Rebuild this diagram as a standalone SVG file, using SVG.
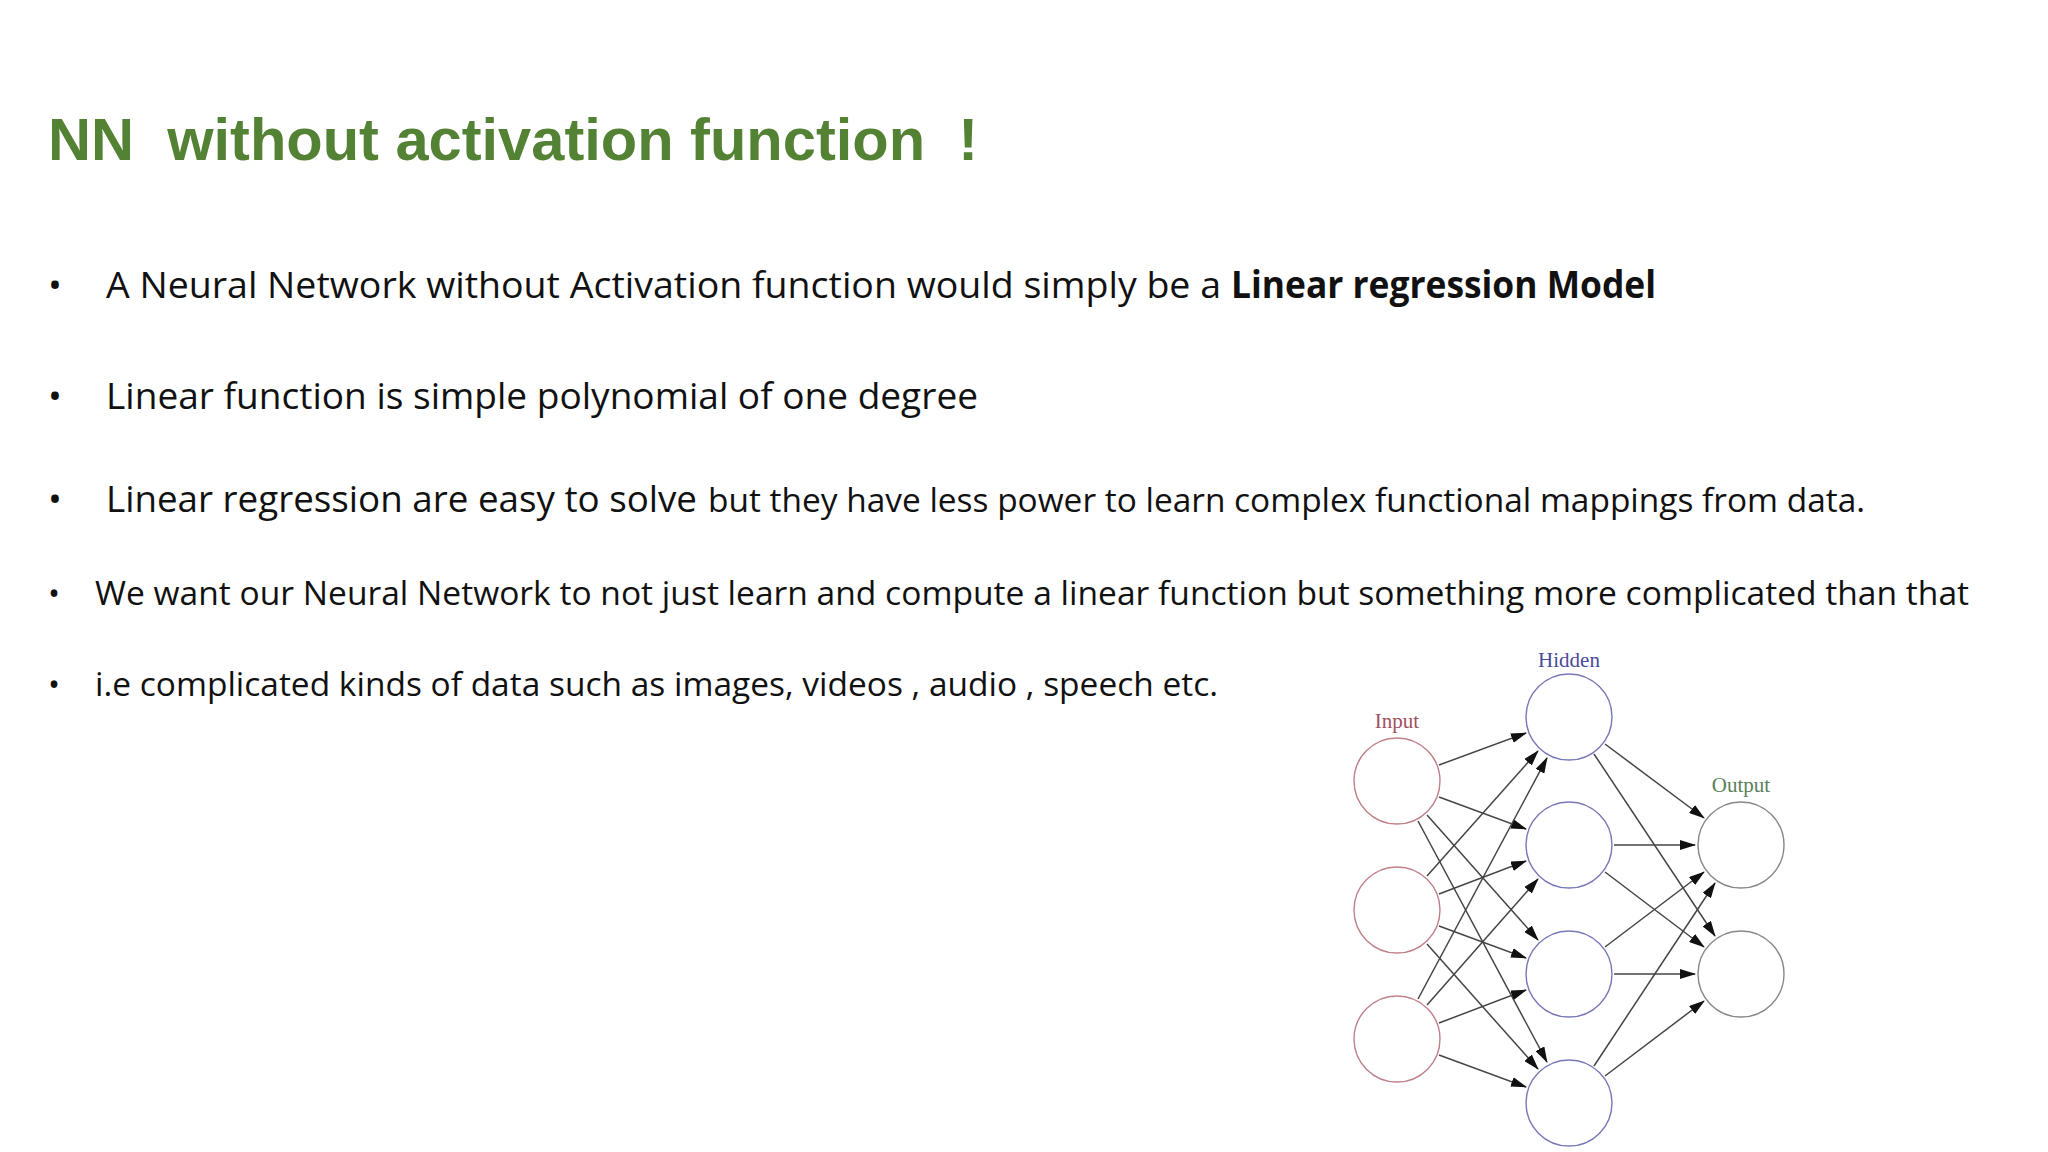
<svg xmlns="http://www.w3.org/2000/svg" width="2048" height="1152" viewBox="0 0 2048 1152">
<defs>
<style>
.t{font-family:"Open Sans","Liberation Sans",sans-serif;fill:#111;}
.b{font-size:37px}
.s{font-size:32px}
.c{fill:#fff;stroke-width:1.4}
.lbl{font-family:"Liberation Serif",serif;font-size:21px;text-anchor:middle}
.e line{stroke:#444;stroke-width:1.5;marker-end:url(#ah)}
</style>
<marker id="ah" markerUnits="userSpaceOnUse" markerWidth="16" markerHeight="10" refX="15" refY="5" orient="auto">
<path d="M0,0 L16,5 L0,10 Z" fill="#111"/>
</marker>
</defs>
<rect width="2048" height="1152" fill="#fff"/>
<text x="48" y="160" xml:space="preserve" style="white-space:pre" font-family="Liberation Sans,Arial,sans-serif" font-weight="bold" font-size="60" fill="#548235" textLength="930" lengthAdjust="spacingAndGlyphs">NN  without activation function  !</text>
<g id="bullets">
<text class="t b" x="48" y="298">•</text>
<text class="t b" x="106" y="298" textLength="1115" lengthAdjust="spacingAndGlyphs">A Neural Network without Activation function would simply be a</text>
<text class="t b" x="1231" y="298" font-weight="bold" textLength="425" lengthAdjust="spacingAndGlyphs">Linear regression Model</text>
<text class="t b" x="48" y="409">•</text>
<text class="t b" x="106" y="409" textLength="872" lengthAdjust="spacingAndGlyphs">Linear function is simple polynomial of one degree</text>
<text class="t b" x="48" y="512">•</text>
<text class="t b" x="106" y="512" textLength="591" lengthAdjust="spacingAndGlyphs">Linear regression are easy to solve</text>
<text class="t s" x="708" y="512" textLength="1157" lengthAdjust="spacingAndGlyphs">but they have less power to learn complex functional mappings from data.</text>
<text class="t s" x="48" y="605">•</text>
<text class="t s" x="95" y="605" textLength="1874" lengthAdjust="spacingAndGlyphs">We want our Neural Network to not just learn and compute a linear function but something more complicated than that</text>
<text class="t s" x="48" y="696">•</text>
<text class="t s" x="95" y="696" textLength="1123" lengthAdjust="spacingAndGlyphs">i.e complicated kinds of data such as images, videos , audio , speech etc.</text>
</g>
<g id="connectors" class="e">
<line x1="1439" y1="765" x2="1526" y2="733"/>
<line x1="1439" y1="797" x2="1526" y2="829"/>
<line x1="1427" y1="815" x2="1538" y2="940"/>
<line x1="1418" y1="821" x2="1547" y2="1062"/>
<line x1="1427" y1="876" x2="1538" y2="751"/>
<line x1="1439" y1="894" x2="1526" y2="861"/>
<line x1="1439" y1="926" x2="1526" y2="958"/>
<line x1="1427" y1="944" x2="1538" y2="1069"/>
<line x1="1418" y1="999" x2="1547" y2="758"/>
<line x1="1427" y1="1005" x2="1538" y2="879"/>
<line x1="1439" y1="1023" x2="1526" y2="990"/>
<line x1="1439" y1="1055" x2="1526" y2="1087"/>
<line x1="1605" y1="744" x2="1704" y2="818"/>
<line x1="1594" y1="754" x2="1715" y2="936"/>
<line x1="1614" y1="845" x2="1695" y2="845"/>
<line x1="1605" y1="872" x2="1704" y2="947"/>
<line x1="1605" y1="947" x2="1704" y2="872"/>
<line x1="1614" y1="974" x2="1695" y2="974"/>
<line x1="1594" y1="1066" x2="1715" y2="883"/>
<line x1="1605" y1="1076" x2="1704" y2="1001"/>
</g>
<g id="labels">
<text class="lbl" x="1397" y="728" fill="#a05060">Input</text>
<text class="lbl" x="1569" y="667" fill="#4a4a9a">Hidden</text>
<text class="lbl" x="1741" y="792" fill="#5a805a">Output</text>
</g>
<g id="in1"><circle class="c" cx="1397" cy="781" r="43" stroke="#c08088"/></g>
<g id="in2"><circle class="c" cx="1397" cy="910" r="43" stroke="#c08088"/></g>
<g id="in3"><circle class="c" cx="1397" cy="1039" r="43" stroke="#c08088"/></g>
<g id="h1"><circle class="c" cx="1569" cy="717" r="43" stroke="#7878b8"/></g>
<g id="h2"><circle class="c" cx="1569" cy="845" r="43" stroke="#7878b8"/></g>
<g id="h3"><circle class="c" cx="1569" cy="974" r="43" stroke="#7878b8"/></g>
<g id="h4"><circle class="c" cx="1569" cy="1103" r="43" stroke="#7878b8"/></g>
<g id="o1"><circle class="c" cx="1741" cy="845" r="43" stroke="#888"/></g>
<g id="o2"><circle class="c" cx="1741" cy="974" r="43" stroke="#888"/></g>
</svg>
